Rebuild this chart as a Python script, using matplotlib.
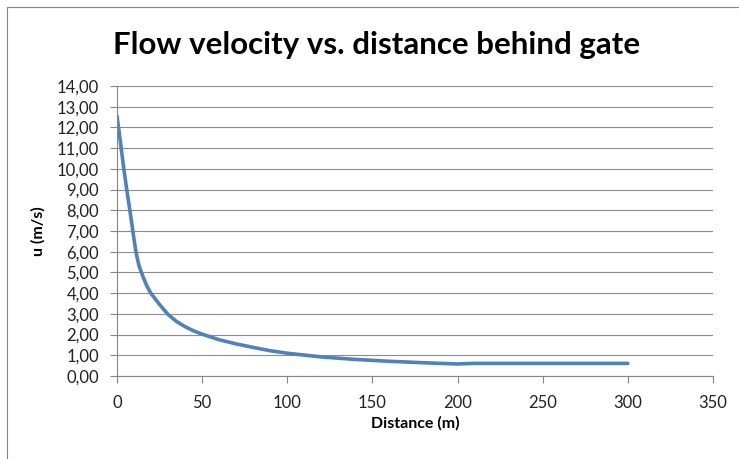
import matplotlib
matplotlib.use("Agg")
import matplotlib.pyplot as plt
from matplotlib.patches import Rectangle
from matplotlib.ticker import FuncFormatter, MultipleLocator

plt.rcParams['font.family'] = ['Lato', 'DejaVu Sans']

# distance behind gate (m) and flow velocity (m/s)
distance = [0, 2, 4, 6, 8, 10, 11, 12, 13, 15, 17.5, 20, 22.5, 25, 30, 35,
            40, 45, 50, 60, 70, 80, 90, 100, 120, 140, 160, 180, 200, 210,
            250, 300]
velocity = [12.55, 11.3, 10.0, 8.85, 7.75, 6.6, 6.05, 5.65, 5.3, 4.85, 4.35,
            3.98, 3.72, 3.45, 2.97, 2.63, 2.38, 2.18, 2.02, 1.75, 1.55, 1.38,
            1.22, 1.10, 0.92, 0.80, 0.71, 0.64, 0.58, 0.61, 0.61, 0.61]

W, H = 739, 459
fig = plt.figure(figsize=(W / 100, H / 100), dpi=100)

# chart area border (runs off the right/bottom edge like the screenshot)
fig.patches.append(Rectangle((7 / W, -0.1), 1.2, 1 - 7 / H + 0.1,
                             transform=fig.transFigure, fill=False,
                             edgecolor='#868686', linewidth=0.8))

ax = fig.add_axes([117 / W, 1 - 376 / H, (713 - 117) / W, (376 - 86) / H])

ax.plot(distance, velocity, color='#4F81BD', linewidth=2.6,
        solid_capstyle='round', solid_joinstyle='round')

ax.set_xlim(0, 350)
ax.set_ylim(0, 14)
ax.xaxis.set_major_locator(MultipleLocator(50))
ax.yaxis.set_major_locator(MultipleLocator(1))
ax.yaxis.set_major_formatter(FuncFormatter(lambda v, p: f"{v:.2f}".replace('.', ',')))

ax.grid(axis='y', color='#8c8c8c', linewidth=0.8)
ax.set_axisbelow(True)
for s in ['top', 'right']:
    ax.spines[s].set_visible(False)
for s in ['left', 'bottom']:
    ax.spines[s].set_color('#868686')
    ax.spines[s].set_linewidth(0.8)
ax.tick_params(axis='both', colors='#868686', length=5, width=0.8,
               labelcolor='#222222', labelsize=12)
ax.tick_params(axis='x', pad=9)
ax.tick_params(axis='y', pad=8)

ax.set_xlabel('Distance (m)', fontsize=11.5, fontweight='bold', labelpad=3)
ax.set_ylabel('u (m/s)', fontsize=11.5, fontweight='bold', labelpad=8)

fig.text(377 / W, 1 - 45 / H, 'Flow velocity vs. distance behind gate',
         ha='center', va='center', fontsize=22.5, fontweight='bold')

fig.savefig('out.png', dpi=100)
